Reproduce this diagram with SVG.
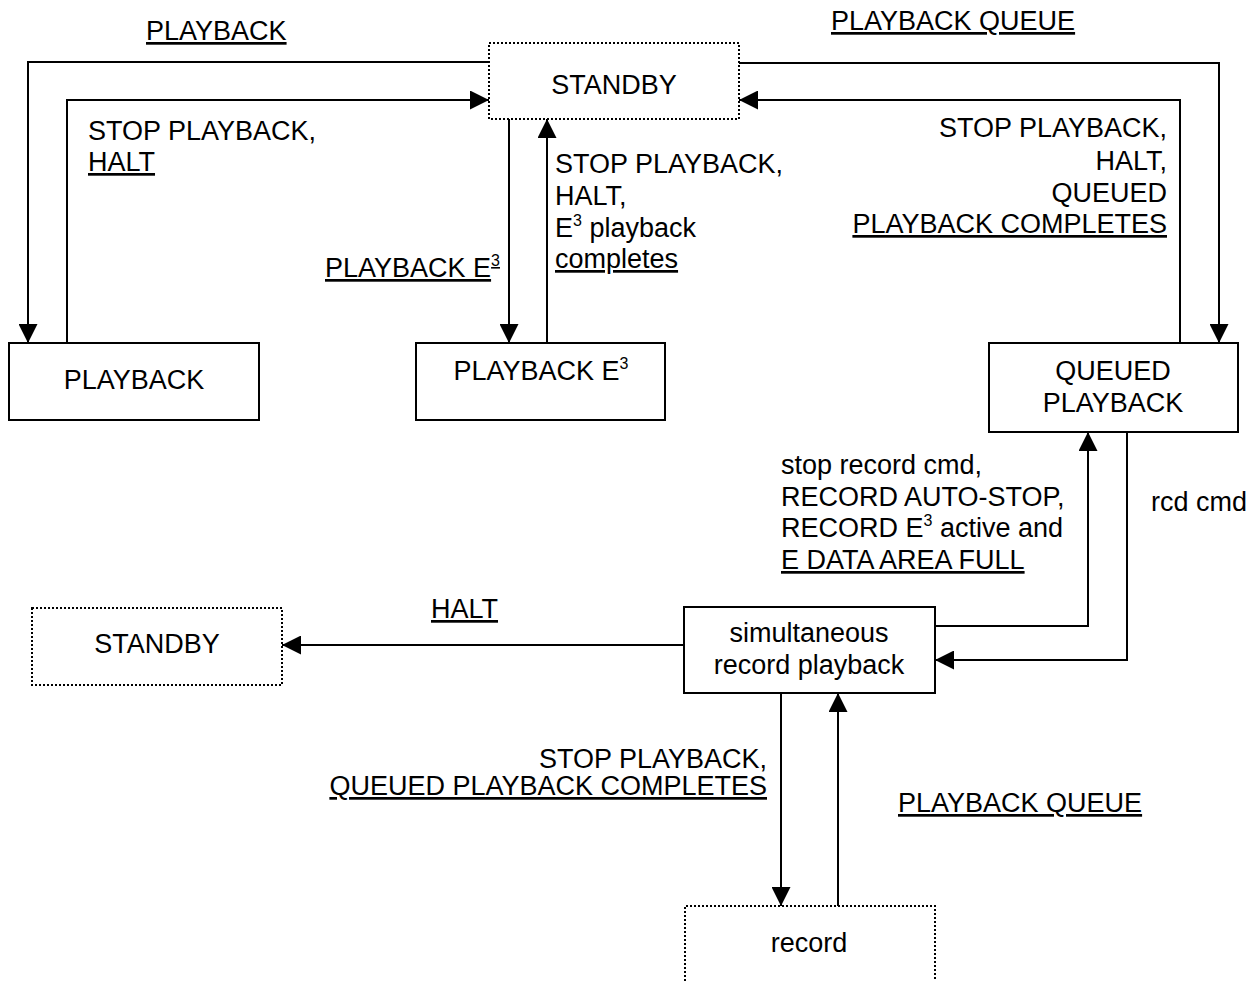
<svg xmlns="http://www.w3.org/2000/svg" width="1259" height="981" viewBox="0 0 1259 981">
<style>
text{font-family:"Liberation Sans",Arial,sans-serif;font-size:27px;fill:#000}
.u{text-decoration:underline}
.m{text-anchor:middle}
.e{text-anchor:end}
.box{fill:#fff;stroke:#000;stroke-width:2}
.dot{fill:#fff;stroke:#000;stroke-width:2;stroke-dasharray:2 2}
.c{fill:none;stroke:#000;stroke-width:2;marker-end:url(#ah)}
.sup{font-size:16px}
</style>
<defs>
<marker id="ah" viewBox="0 0 10 10" refX="10" refY="5" markerUnits="userSpaceOnUse" markerWidth="19" markerHeight="19" orient="auto">
<path d="M0,0 L10,5 L0,10 z" fill="#000"/>
</marker>
</defs>
<rect width="1259" height="981" fill="#fff"/>
<g id="connectors">
<path class="c" d="M489,62 H28 V343"/>
<path class="c" d="M67,343 V100 H489"/>
<path class="c" d="M509,119 V343"/>
<path class="c" d="M547,343 V119"/>
<path class="c" d="M739,63 H1219 V343"/>
<path class="c" d="M1180,343 V100 H739"/>
<path class="c" d="M935,626 H1088 V432"/>
<path class="c" d="M1127,432 V660 H935"/>
<path class="c" d="M684,645 H282"/>
<path class="c" d="M781,693 V906"/>
<path class="c" d="M838,906 V693"/>
</g>
<g id="labels">
<text x="146" y="40" class="u">PLAYBACK</text>
<text x="88" y="140">STOP PLAYBACK,</text>
<text x="88" y="171" class="u">HALT</text>
<text x="555" y="173">STOP PLAYBACK,</text>
<text x="555" y="205">HALT,</text>
<text x="555" y="237">E<tspan class="sup" dy="-11">3</tspan><tspan dy="11"> playback</tspan></text>
<text x="555" y="268" class="u">completes</text>
<text x="325" y="277" class="u">PLAYBACK E<tspan class="sup" dy="-11">3</tspan></text>
<text x="831" y="30" class="u">PLAYBACK QUEUE</text>
<text x="1167" y="137" class="e">STOP PLAYBACK,</text>
<text x="1167" y="170" class="e">HALT,</text>
<text x="1167" y="202" class="e">QUEUED</text>
<text x="1167" y="233" class="e u">PLAYBACK COMPLETES</text>
<text x="781" y="474">stop record cmd,</text>
<text x="781" y="506">RECORD AUTO-STOP,</text>
<text x="781" y="537">RECORD E<tspan class="sup" dy="-11">3</tspan><tspan dy="11"> active and</tspan></text>
<text x="781" y="569" class="u">E DATA AREA FULL</text>
<text x="1151" y="511">rcd cmd</text>
<text x="431" y="618" class="u">HALT</text>
<text x="767" y="768" class="e">STOP PLAYBACK,</text>
<text x="767" y="795" class="e u">QUEUED PLAYBACK COMPLETES</text>
<text x="898" y="812" class="u">PLAYBACK QUEUE</text>
</g>
<g id="standby-top">
<rect class="dot" x="489" y="43" width="250" height="76"/>
<text x="614" y="94" class="m">STANDBY</text>
</g>
<g id="playback">
<rect class="box" x="9" y="343" width="250" height="77"/>
<text x="134" y="389" class="m">PLAYBACK</text>
</g>
<g id="playback-e3">
<rect class="box" x="416" y="343" width="249" height="77"/>
<text x="541" y="380" class="m">PLAYBACK E<tspan class="sup" dy="-11">3</tspan></text>
</g>
<g id="queued-playback">
<rect class="box" x="989" y="343" width="249" height="89"/>
<text x="1113" y="380" class="m">QUEUED</text>
<text x="1113" y="412" class="m">PLAYBACK</text>
</g>
<g id="simultaneous">
<rect class="box" x="684" y="607" width="251" height="86"/>
<text x="809" y="642" class="m">simultaneous</text>
<text x="809" y="674" class="m">record playback</text>
</g>
<g id="standby-bottom">
<rect class="dot" x="32" y="608" width="250" height="77"/>
<text x="157" y="653" class="m">STANDBY</text>
</g>
<g id="record">
<path class="dot" d="M685,985 V906 H935 V985"/>
<text x="809" y="952" class="m">record</text>
</g>
</svg>
